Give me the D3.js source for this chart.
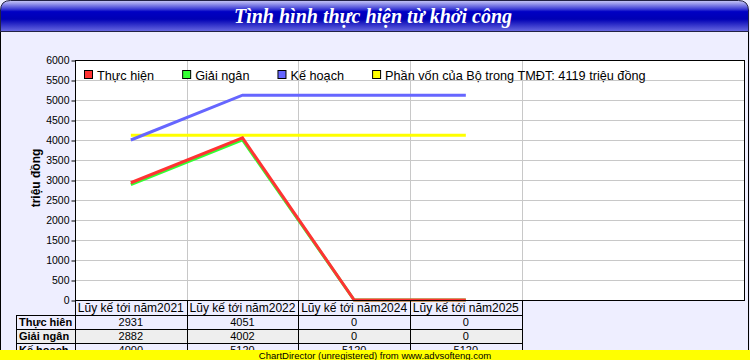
<!DOCTYPE html>
<html>
<head>
<meta charset="utf-8">
<script src="https://cdn.jsdelivr.net/npm/d3@7"></script>
<style>
  html, body { margin: 0; padding: 0; background: #eeeeff; }
  svg { display: block; }
  text { font-family: "Liberation Sans", Arial, sans-serif; }
</style>
</head>
<body>
<svg id="chart" width="750" height="360"></svg>
<script>
// ---- data ----
const chartTitle = "Tình hình thực hiện từ khởi công";
const categories = ["Lũy kế tới năm2021", "Lũy kế tới năm2022", "Lũy kế tới năm2024", "Lũy kế tới năm2025"];
const seriesNames = ["Thực hiện", "Giải ngân", "Kế hoạch", "Phần vốn của Bộ trong TMĐT: 4119 triệu đồng"];
const thucHien = [2931, 4051, 0, 0];
const giaiNgan = [2882, 4002, 0, 0];
const keHoach = [4000, 5120, 5120, 5120];
const phanVon = [4119, 4119, 4119, 4119];
const seriesColors = ["#ff3333", "#33ff33", "#6666ff", "#ffff00"];
const tableRowLabels = ["Thực hiên", "Giải ngân", "Kế hoạch"];
const yTicks = [0, 500, 1000, 1500, 2000, 2500, 3000, 3500, 4000, 4500, 5000, 5500, 6000];
const yTitle = "triệu đồng";
const footerText = "ChartDirector (unregistered) from www.advsofteng.com";

const seriesData = [thucHien, giaiNgan, keHoach, phanVon];
const tableData = [thucHien, giaiNgan, keHoach];

// ---- layout ----
const W = 750, H = 360;
const plot = { left: 75, top: 60, right: 745, bottom: 300 };
const slotCount = 6;
const footerTop = 350;

const svg = d3.select("#chart");
const defs = svg.append("defs");

// background
svg.append("rect").attr("x", 0).attr("y", 0).attr("width", W).attr("height", H).attr("fill", "#eeeeff");
// frame sides
svg.append("line").attr("x1", 0.5).attr("x2", 0.5).attr("y1", 10).attr("y2", H).attr("stroke", "#000");
svg.append("line").attr("x1", 748.5).attr("x2", 748.5).attr("y1", 10).attr("y2", H).attr("stroke", "#000");

// title bar
const grad = defs.append("linearGradient").attr("id", "tg").attr("x1", 0).attr("y1", 0).attr("x2", 0).attr("y2", 1);
[[0, "#c8c8f8"], [0.1, "#9a9aec"], [0.28, "#3a3ad4"], [0.36, "#0000c4"], [0.6, "#0000b4"], [1, "#6a6ae2"]]
  .forEach(([o, c]) => grad.append("stop").attr("offset", o).attr("stop-color", c));
const r = 10, tx0 = 0.5, tx1 = 748.5, ty0 = 0.5, ty1 = 31.5;
svg.append("path")
  .attr("d", `M${tx0},${ty1} L${tx0},${ty0 + r} Q${tx0},${ty0} ${tx0 + r},${ty0} L${tx1 - r},${ty0} Q${tx1},${ty0} ${tx1},${ty0 + r} L${tx1},${ty1} Z`)
  .attr("fill", "url(#tg)").attr("stroke", "#222244").attr("stroke-width", 1);
svg.append("text")
  .attr("x", 373).attr("y", 23)
  .attr("text-anchor", "middle")
  .style("font-family", "'Liberation Serif', 'Times New Roman', serif")
  .style("font-style", "italic").style("font-weight", "bold")
  .style("font-size", "20px").attr("fill", "#ffffff")
  .text(chartTitle);

// scales
const x = d3.scaleLinear().domain([0, slotCount]).range([plot.left, plot.right]);
const y = d3.scaleLinear().domain([0, 6000]).range([plot.bottom, plot.top]);
const cx = i => x(i + 0.5);

// plot background
svg.append("rect").attr("x", plot.left).attr("y", plot.top)
  .attr("width", plot.right - plot.left).attr("height", plot.bottom - plot.top).attr("fill", "#ffffff");

// grid
svg.append("g").selectAll("line").data(yTicks.slice(1, -1)).join("line")
  .attr("x1", plot.left).attr("x2", plot.right)
  .attr("y1", d => Math.round(y(d)) + 0.5).attr("y2", d => Math.round(y(d)) + 0.5)
  .attr("stroke", "#c8c8c8");
svg.append("g").selectAll("line").data(d3.range(1, categories.length + 1)).join("line")
  .attr("x1", d => Math.round(x(d)) + 0.5).attr("x2", d => Math.round(x(d)) + 0.5)
  .attr("y1", plot.top).attr("y2", plot.bottom)
  .attr("stroke", "#c8c8c8");

// y axis
const yAxis = d3.axisLeft(y).tickValues(yTicks).tickSize(4).tickPadding(2).tickFormat(d3.format("d"));
const yg = svg.append("g").attr("transform", `translate(${plot.left + 0.5},0.5)`).call(yAxis);
yg.select(".domain").remove();
yg.selectAll("text").style("font-size", "10.5px").attr("fill", "#000").style("font-family", "'Liberation Sans', Arial, sans-serif");
yg.selectAll("line").attr("stroke", "#000");

svg.append("text")
  .attr("transform", `translate(40,${(plot.top + plot.bottom) / 2 - 2}) rotate(-90)`)
  .attr("text-anchor", "middle")
  .style("font-size", "12px").style("font-weight", "bold")
  .text(yTitle);

// lines
const lineGen = d3.line().x((d, i) => cx(i)).y(d => y(d));
const drawOrder = [3, 2, 1, 0];
svg.append("g").selectAll("path").data(drawOrder).join("path")
  .attr("d", k => lineGen(seriesData[k]))
  .attr("fill", "none")
  .attr("stroke", k => seriesColors[k])
  .attr("stroke-width", 3)
  .attr("stroke-linejoin", "miter");

// plot border
svg.append("rect").attr("x", plot.left + 0.5).attr("y", plot.top + 0.5)
  .attr("width", plot.right - plot.left - 1).attr("height", plot.bottom - plot.top)
  .attr("fill", "none").attr("stroke", "#000");

// legend
const lg = svg.append("g");
let lx = 84;
seriesNames.forEach((name, i) => {
  lg.append("rect").attr("x", lx + 0.5).attr("y", 70.5).attr("width", 8).attr("height", 8)
    .attr("fill", seriesColors[i]).attr("stroke", "#000");
  const t = lg.append("text").attr("x", lx + 13).attr("y", 79.5)
    .style("font-size", "12.7px").text(name);
  lx += 13 + t.node().getComputedTextLength() + 28;
});

// data table (clipped by footer bar, as in the original)
defs.append("clipPath").attr("id", "tclip").append("rect")
  .attr("x", 0).attr("y", plot.bottom).attr("width", W).attr("height", footerTop - plot.bottom);
const rowH = 14;
const headTop = plot.bottom, headBot = 315;
const tbl = svg.append("g").attr("clip-path", "url(#tclip)");
// header cells
categories.forEach((c, i) => {
  tbl.append("rect").attr("x", Math.round(x(i)) + 0.5).attr("y", headTop + 0.5)
    .attr("width", Math.round(x(i + 1)) - Math.round(x(i))).attr("height", headBot - headTop)
    .attr("fill", "none").attr("stroke", "#000");
  tbl.append("text").attr("x", cx(i)).attr("y", headBot - 3).attr("text-anchor", "middle")
    .style("font-size", "12px").text(c);
});
// rows
tableData.forEach((row, r) => {
  const top = headBot + r * rowH;
  const fill = r % 2 === 1 ? "#eeeeee" : "#eeeeff";
  tbl.append("rect").attr("x", 16.5).attr("y", top + 0.5)
    .attr("width", Math.round(x(0)) - 16).attr("height", rowH)
    .attr("fill", fill).attr("stroke", "#000");
  tbl.append("text").attr("x", 19).attr("y", top + rowH - 3)
    .style("font-size", "11px").style("font-weight", "bold").text(tableRowLabels[r]);
  row.forEach((v, i) => {
    tbl.append("rect").attr("x", Math.round(x(i)) + 0.5).attr("y", top + 0.5)
      .attr("width", Math.round(x(i + 1)) - Math.round(x(i))).attr("height", rowH)
      .attr("fill", fill).attr("stroke", "#000");
    tbl.append("text").attr("x", cx(i)).attr("y", top + rowH - 3).attr("text-anchor", "middle")
      .style("font-size", "11px").text(v);
  });
});

// footer bar
svg.append("rect").attr("x", 0).attr("y", footerTop).attr("width", W).attr("height", H - footerTop).attr("fill", "#ffff00");
svg.append("text").attr("x", 375).attr("y", 358.5).attr("text-anchor", "middle")
  .style("font-size", "9.5px").text(footerText);
</script>
</body>
</html>
